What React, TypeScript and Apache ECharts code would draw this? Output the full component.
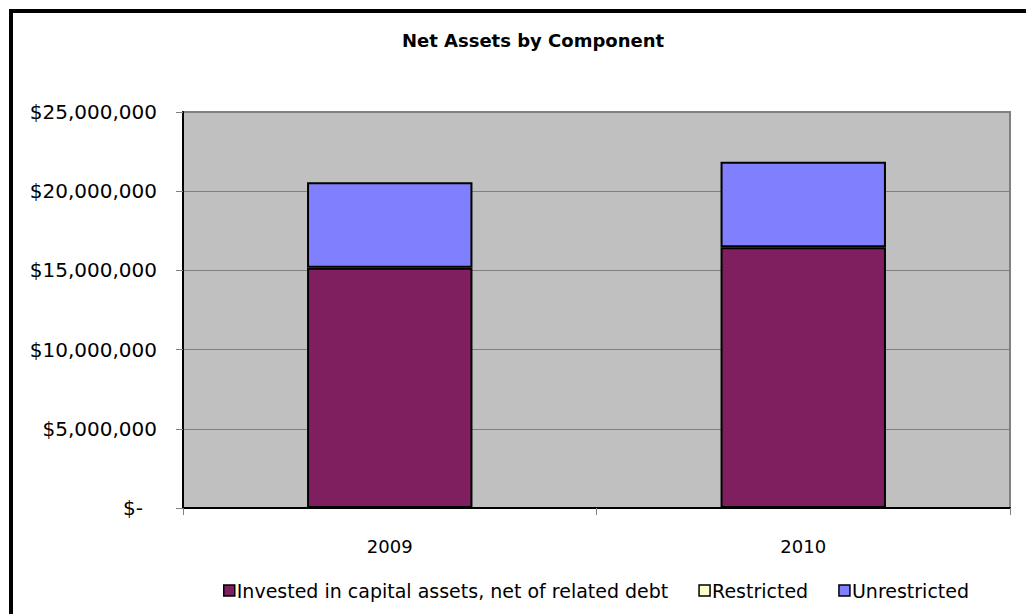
import React, { useEffect, useRef } from "react";
import * as echarts from "echarts";

const categories = ["2009", "2010"];
const investedValues = [15170000, 16460000];
const restrictedValues = [0, 0];
const unrestrictedValues = [5390000, 5400000];
const seriesNames = [
  "Invested in capital assets, net of related debt",
  "Restricted",
  "Unrestricted",
];
const titleText = "Net Assets by Component";

function formatMoney(v: number): string {
  if (v === 0) return "{z|$-}";
  return "$" + v.toLocaleString("en-US");
}

export default function App() {
  const ref = useRef<HTMLDivElement>(null);
  useEffect(() => {
    if (!ref.current) return;
    const chart = echarts.init(ref.current, null, { renderer: "svg" });
    const font = "'DejaVu Sans', 'Liberation Sans', Arial, sans-serif";
    const barStyle = (color: string) => ({
      color,
      borderColor: "#000000",
      borderWidth: 2,
    });
    chart.setOption({
      animation: false,
      backgroundColor: "#ffffff",
      title: {
        text: titleText,
        left: 528,
        textAlign: "center",
        top: 26,
        textStyle: { fontFamily: font, fontSize: 18, fontWeight: "bold", color: "#000" },
      },
      legend: {
        bottom: 9,
        left: 218,
        itemWidth: 11,
        itemHeight: 11,
        itemGap: 30,
        icon: "rect",
        textStyle: { fontFamily: font, fontSize: 19, color: "#000", padding: [0, 0, 0, -3] },
        data: seriesNames.map((n) => ({
          name: n,
          itemStyle: { borderColor: "#000", borderWidth: 1.5 },
        })),
      },
      grid: {
        left: 183,
        top: 112,
        right: 16,
        bottom: 106,
        show: true,
        backgroundColor: "#C0C0C0",
        borderColor: "#808080",
        borderWidth: 2,
      },
      xAxis: {
        type: "category",
        data: categories,
        boundaryGap: true,
        axisLine: { lineStyle: { color: "#000", width: 2 } },
        axisTick: { show: true, length: 7, interval: 0, lineStyle: { color: "#808080", width: 1 } },
        axisLabel: { fontFamily: font, fontSize: 18, color: "#000", margin: 29 },
      },
      yAxis: {
        type: "value",
        min: 0,
        max: 25000000,
        interval: 5000000,
        axisLine: { show: true, lineStyle: { color: "#000", width: 2 } },
        axisTick: { show: true, length: 7, lineStyle: { color: "#808080", width: 1 } },
        splitLine: { lineStyle: { color: "#808080", width: 1 } },
        axisLabel: {
          fontFamily: font,
          fontSize: 20,
          color: "#000",
          margin: 26,
          formatter: formatMoney,
          rich: { z: { fontFamily: font, fontSize: 20, color: "#000", padding: [0, 14, 0, 0] } },
        },
      },
      series: [
        {
          name: seriesNames[0],
          type: "bar",
          stack: "total",
          barWidth: "40%",
          data: investedValues,
          itemStyle: barStyle("#7F1F5F"),
        },
        {
          name: seriesNames[1],
          type: "bar",
          stack: "total",
          barWidth: "40%",
          data: restrictedValues,
          itemStyle: { color: "#FFFFCC", borderColor: "#000", borderWidth: 0 },
        },
        {
          name: seriesNames[2],
          type: "bar",
          stack: "total",
          barWidth: "40%",
          data: unrestrictedValues,
          itemStyle: barStyle("#8080FF"),
        },
      ],
      graphic: [
        {
          type: "polyline",
          silent: true,
          z: 100,
          shape: { points: [[11, 614], [11, 11], [1026, 11]] },
          style: { stroke: "#000", lineWidth: 4, fill: "none" },
        },
      ],
    });
    return () => chart.dispose();
  }, []);
  return (
    <div
      ref={ref}
      style={{ position: "fixed", left: 0, top: 0, width: 1026, height: 614 }}
    />
  );
}
